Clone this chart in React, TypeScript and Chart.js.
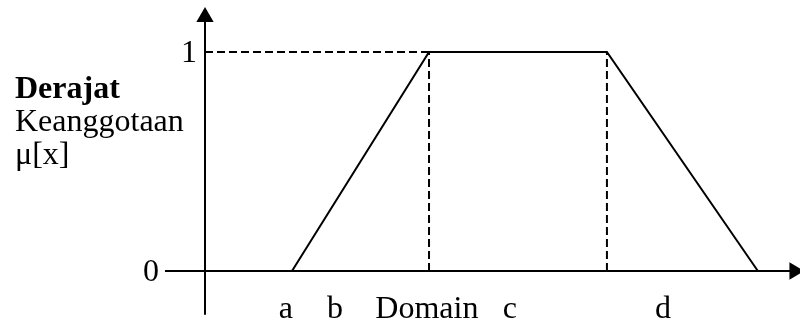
import React, { useEffect, useRef } from 'react';
import { Chart, registerables } from 'chart.js';

Chart.register(...registerables);

// Trapezoid membership function (domain units)
const trapX = [2.0, 5.15, 9.24, 12.71];
const trapY = [0, 1, 1, 0];

// Dashed guide lines at the shoulders
const shoulderX = [5.15, 9.24];
const topLevel = 1;

// Axes extents
const xAxisRange = [-0.92, 13.55];
const yAxisRange = [-0.2, 1.16];

// Tick labels
const yTickValues = [0, 1];
const yTickLabels = ['0', '1'];
const xLabelPos = [1.86, 2.99, 5.1, 7.01, 10.53];
const xLabels = ['a', 'b', 'Domain', 'c', 'd'];

// Y-axis title lines
const titleLines = ['Derajat', 'Keanggotaan', 'μ[x]'];

const FONT = "'Liberation Serif', 'Times New Roman', serif";

export default function App() {
  const ref = useRef<HTMLCanvasElement | null>(null);

  useEffect(() => {
    const canvas = ref.current;
    if (!canvas) return;

    const textPlugin = {
      id: 'textPlugin',
      afterDatasetsDraw(chart: any) {
        const { ctx, scales } = chart;
        const xs = scales.x;
        const ys = scales.y;
        const axisX = xs.getPixelForValue(0);
        const axisY = ys.getPixelForValue(0);
        ctx.save();
        ctx.fillStyle = '#000';
        ctx.font = `32px ${FONT}`;
        ctx.textBaseline = 'alphabetic';

        // x labels
        ctx.textAlign = 'center';
        xLabels.forEach((lab, i) => {
          ctx.fillText(lab, xs.getPixelForValue(xLabelPos[i]), axisY + 47);
        });

        // y tick labels
        ctx.textAlign = 'right';
        yTickValues.forEach((v, i) => {
          const px = v === 0 ? xs.getPixelForValue(xAxisRange[0]) - 6 : axisX - 8;
          ctx.fillText(yTickLabels[i], px, ys.getPixelForValue(v) + 10);
        });

        // title
        ctx.textAlign = 'left';
        titleLines.forEach((line, i) => {
          ctx.font = i === 0 ? `bold 32px ${FONT}` : `32px ${FONT}`;
          ctx.fillText(line, 15, 98 + i * 33);
        });
        ctx.restore();
      },
    };

    const line = (data: { x: number; y: number }[], dashed = false) => ({
      type: 'line' as const,
      data,
      borderColor: '#000',
      borderWidth: 2,
      borderDash: dashed ? [8, 4] : [],
      pointRadius: 0,
      fill: false,
      tension: 0,
    });

    const chart = new Chart(canvas, {
      type: 'scatter',
      data: {
        datasets: [
          line([
            { x: xAxisRange[0], y: 0 },
            { x: xAxisRange[1], y: 0 },
          ]),
          line([
            { x: 0, y: yAxisRange[0] },
            { x: 0, y: yAxisRange[1] },
          ]),
          line(
            [
              { x: 0, y: topLevel },
              { x: shoulderX[0], y: topLevel },
            ],
            true
          ),
          ...shoulderX.map((sx) =>
            line(
              [
                { x: sx, y: 0 },
                { x: sx, y: topLevel },
              ],
              true
            )
          ),
          line(trapX.map((x, i) => ({ x, y: trapY[i] }))),
          {
            type: 'scatter' as const,
            data: [
              { x: 0, y: yAxisRange[1] },
              { x: xAxisRange[1], y: 0 },
            ],
            pointStyle: 'triangle',
            pointRadius: 10,
            pointRotation: [0, 90],
            backgroundColor: '#000',
            borderColor: '#000',
            borderWidth: 0,
            showLine: false,
          },
        ] as any,
      },
      options: {
        animation: false,
        responsive: false,
        devicePixelRatio: 1,
        layout: { padding: 0, autoPadding: false },
        plugins: {
          legend: { display: false },
          tooltip: { enabled: false },
        },
        events: [],
        scales: {
          x: {
            type: 'linear',
            min: -205 / 43.5,
            max: 595 / 43.5,
            display: false,
          },
          y: {
            type: 'linear',
            min: (271 - 322) / 219,
            max: 271 / 219,
            display: false,
          },
        },
      } as any,
      plugins: [textPlugin],
    });

    return () => chart.destroy();
  }, []);

  return (
    <div style={{ position: 'fixed', left: 0, top: 0, width: 800, height: 322, background: '#fff' }}>
      <canvas ref={ref} width={800} height={322} style={{ display: 'block', width: 800, height: 322 }} />
    </div>
  );
}
